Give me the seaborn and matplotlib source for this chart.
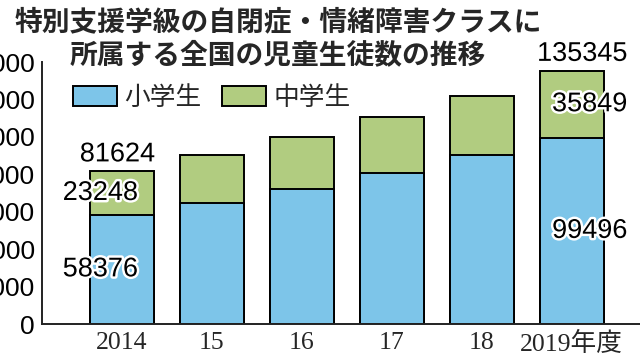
import matplotlib
matplotlib.use('agg')
import matplotlib.pyplot as plt
import matplotlib.patheffects as pe
from matplotlib.patches import Patch
import seaborn as sns
import pandas as pd

# data (middle years estimated)
years = ['2014', '15', '16', '17', '18', '2019年度']
elementary = [58376, 64500, 72000, 80500, 90100, 99496]
junior = [23248, 25600, 27700, 29900, 31500, 35849]
totals = [e + j for e, j in zip(elementary, junior)]
yticks = [0, 20000, 40000, 60000, 80000, 100000, 120000, 140000]

title_lines = ['特別支援学級の自閉症・情緒障害クラスに', '所属する全国の児童生徒数の推移']
series_names = ['小学生', '中学生']

blue = '#7dc5e9'
green = '#b1cc80'

sns.set_style('white')
plt.rcParams['font.family'] = ['Liberation Sans', 'Noto Sans CJK JP', 'DejaVu Sans']

df = pd.DataFrame({'year': years, 'elementary': elementary, 'total': totals})

fig = plt.figure(figsize=(6.4, 3.6), dpi=100)
ax = fig.add_axes([42 / 640, 36 / 360, 598 / 640, 262 / 360])

sns.barplot(data=df, x='year', y='total', color=green, saturation=1,
            edgecolor='black', linewidth=1.4, width=0.71, ax=ax)
sns.barplot(data=df, x='year', y='elementary', color=blue, saturation=1,
            edgecolor='black', linewidth=1.4, width=0.71, ax=ax)

ax.set_xlim(-0.89, 5.76)
ax.set_ylim(0, 140000)
ax.set_xlabel('')
ax.set_ylabel('')
ax.set_yticks(yticks)
ax.set_yticklabels([str(t) for t in yticks], family=['Liberation Sans Narrow', 'Liberation Sans'],
                   fontsize=19)
ax.set_xticks(range(len(years)))
ax.set_xticklabels(years, family=['Liberation Serif', 'Noto Sans CJK JP'], fontsize=18.5)
ax.tick_params(axis='y', direction='in', length=7, width=1.4, pad=5, colors='black')
ax.tick_params(axis='x', length=0, pad=6)
for side in ['top', 'right']:
    ax.spines[side].set_visible(False)
for side in ['left', 'bottom']:
    ax.spines[side].set_color('#222222')
    ax.spines[side].set_linewidth(1.4)

# value labels on first and last bar
outline = [pe.withStroke(linewidth=3.5, foreground='white')]
lab_kw = dict(ha='center', va='center', fontsize=19.5, color='black',
              path_effects=outline, clip_on=False, zorder=5)
for i, dx_top, dx in [(0, -0.05, -0.24), (5, 0.12, 0.2)]:
    ax.text(i + dx_top, totals[i] + 9000, str(totals[i]), **lab_kw)
    ax.text(i + dx, elementary[i] + junior[i] / 2, str(junior[i]), **lab_kw)
    ax.text(i + dx, elementary[i] / 2, str(elementary[i]), **lab_kw)

handles = [Patch(facecolor=blue, edgecolor='black', linewidth=1.4),
           Patch(facecolor=green, edgecolor='black', linewidth=1.4)]
fig.legend(handles, series_names, loc='center left', bbox_to_anchor=(50 / 640, 1 - 98 / 360),
           ncol=2, frameon=False, handlelength=1.7, handleheight=0.85,
           handletextpad=0.3, columnspacing=0.8, prop={'family': ['Noto Sans CJK JP'], 'size': 18.5})

fig.text(278 / 640, 1 - 22 / 360, title_lines[0], ha='center', va='center',
         fontsize=20, fontweight='bold', family=['Noto Sans CJK JP'])
fig.text(278 / 640, 1 - 55 / 360, title_lines[1], ha='center', va='center',
         fontsize=20, fontweight='bold', family=['Noto Sans CJK JP'])

fig.savefig('out.png', dpi=100)
